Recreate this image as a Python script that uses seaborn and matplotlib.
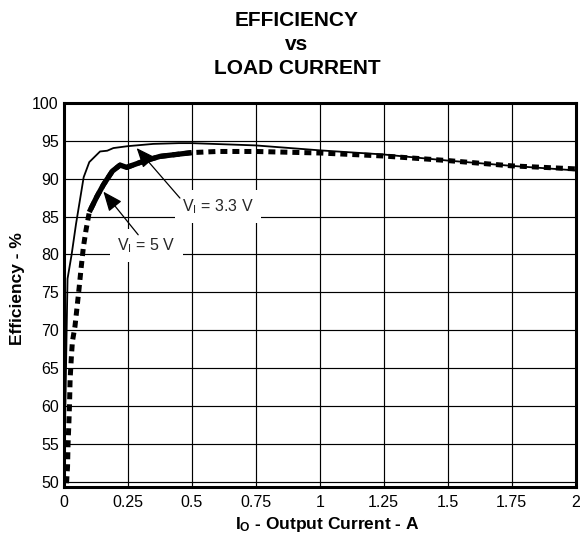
import matplotlib
matplotlib.use("Agg")
import matplotlib.pyplot as plt
import numpy as np
import pandas as pd
import seaborn as sns

# Efficiency curves (output current in A, efficiency in %)
current_3v3 = [0.001, 0.005, 0.008, 0.011, 0.015, 0.031, 0.048, 0.078, 0.100,
               0.142, 0.170, 0.194, 0.250, 0.350, 0.450, 0.500, 0.750, 1.000,
               1.250, 1.500, 1.750, 2.000]
eff_3v3 = [50.0, 57.0, 63.0, 69.0, 76.8, 80.0, 84.0, 90.2, 92.2,
           93.6, 93.7, 94.05, 94.3, 94.6, 94.7, 94.7, 94.4, 93.75,
           93.2, 92.4, 91.7, 91.1]

current_5v = [0.011, 0.015, 0.017, 0.020, 0.023, 0.025, 0.030, 0.034, 0.044,
              0.052, 0.060, 0.068, 0.077, 0.087, 0.100, 0.129, 0.155, 0.190,
              0.220, 0.246, 0.311, 0.376, 0.500, 0.600, 0.750, 1.000, 1.250,
              1.500, 1.750, 2.000]
eff_5v = [49.8, 52.0, 55.0, 57.5, 60.5, 63.5, 66.5, 68.5, 70.5,
          73.0, 75.5, 78.2, 81.0, 83.2, 85.6, 87.6, 89.2, 91.0,
          91.8, 91.5, 92.3, 92.95, 93.45, 93.6, 93.6, 93.4, 93.0,
          92.4, 91.7, 91.3]

x_ticks = [0, 0.25, 0.5, 0.75, 1, 1.25, 1.5, 1.75, 2]
x_tick_labels = ["0", "0.25", "0.5", "0.75", "1", "1.25", "1.5", "1.75", "2"]
y_ticks = [50, 55, 60, 65, 70, 75, 80, 85, 90, 95, 100]
title_lines = ["EFFICIENCY", "vs", "LOAD CURRENT"]

sns.set_theme(style="white")
plt.rcParams["font.family"] = ["Liberation Sans", "DejaVu Sans"]
plt.rcParams["mathtext.fontset"] = "custom"
plt.rcParams["mathtext.rm"] = "Liberation Sans"
plt.rcParams["mathtext.bf"] = "Liberation Sans:bold"

df_3v3 = pd.DataFrame({"current": current_3v3, "efficiency": eff_3v3})
df_5v = pd.DataFrame({"current": current_5v, "efficiency": eff_5v})
df_5v_solid = df_5v[(df_5v["current"] >= 0.099) & (df_5v["current"] <= 0.5)]

W, H = 582, 535
fig = plt.figure(figsize=(W / 100, H / 100), dpi=100)
ax = fig.add_axes([63.7 / W, 1 - 487 / H, 512 / W, 384 / H])

# grid
for xv in x_ticks[1:-1]:
    ax.axvline(xv, color="black", lw=0.85, zorder=1)
for yv in y_ticks[:-1]:
    ax.axhline(yv, color="black", lw=0.85, zorder=1)

# 5 V: heavy dashed trace with a solid knee section
sns.lineplot(data=df_5v, x="current", y="efficiency", ax=ax, color="black",
             lw=3.6, linestyle=(0, (1.4, 1.0)), dash_capstyle="butt",
             sort=False, estimator=None, zorder=3)
sns.lineplot(data=df_5v_solid, x="current", y="efficiency", ax=ax,
             color="black", lw=3.8, sort=False, estimator=None,
             solid_capstyle="butt", zorder=3)
# 3.3 V: thin solid trace
sns.lineplot(data=df_3v3, x="current", y="efficiency", ax=ax, color="black",
             lw=1.3, sort=False, estimator=None, zorder=4)

ax.set_xlim(0, 2)
ax.set_ylim(49.3, 100)
ax.set_xticks(x_ticks)
ax.set_xticklabels(x_tick_labels)
ax.set_yticks(y_ticks)
ax.tick_params(axis="both", length=0, labelsize=11.5, colors="black")
ax.tick_params(axis="x", pad=6)
ax.tick_params(axis="y", pad=3.5)
for sp in ax.spines.values():
    sp.set_visible(True)
    sp.set_color("black")
    sp.set_linewidth(2.2)
    sp.set_zorder(5)

ax.set_xlabel(r"$\mathbf{I_O}$ - Output Current - A", fontsize=12.5,
              fontweight="bold", color="black")
ax.xaxis.set_label_coords((327 - 63.7) / 512, (487 - 529) / 384)
ax.xaxis.label.set_va("baseline")
ax.set_ylabel("Efficiency - %", fontsize=12.5, fontweight="bold", color="black")
ax.yaxis.set_label_coords((18 - 63.7) / 512, (487 - 289) / 384)
ax.yaxis.label.set_va("center")

# three-line heading
for line, base in zip(title_lines, [26.5, 50.0, 74.0]):
    fig.text(297 / W, 1 - base / H, line, ha="center", va="baseline",
             fontsize=15, fontweight="bold", color="black")

# curve callouts
box = dict(boxstyle="square,pad=0.45", fc="white", ec="none")
arrow = dict(arrowstyle="-|>,head_length=0.6,head_width=0.25",
             color="black", lw=0.9, mutation_scale=20, shrinkA=0, shrinkB=0)

ax.text(0.603, 86.3, r"V$_\mathregular{I}$ = 3.3 V", fontsize=11.5,
        ha="center", va="center", bbox=box, zorder=6)
ax.annotate("", xy=(0.285, 94.05), xytext=(0.454, 87.45),
            arrowprops=arrow, zorder=7)

ax.text(0.322, 81.2, r"V$_\mathregular{I}$ = 5 V", fontsize=11.5,
        ha="center", va="center", bbox=box, zorder=6)
ax.annotate("", xy=(0.155, 88.3), xytext=(0.291, 82.6),
            arrowprops=arrow, zorder=7)

fig.savefig("out.png", dpi=100, facecolor="white")
